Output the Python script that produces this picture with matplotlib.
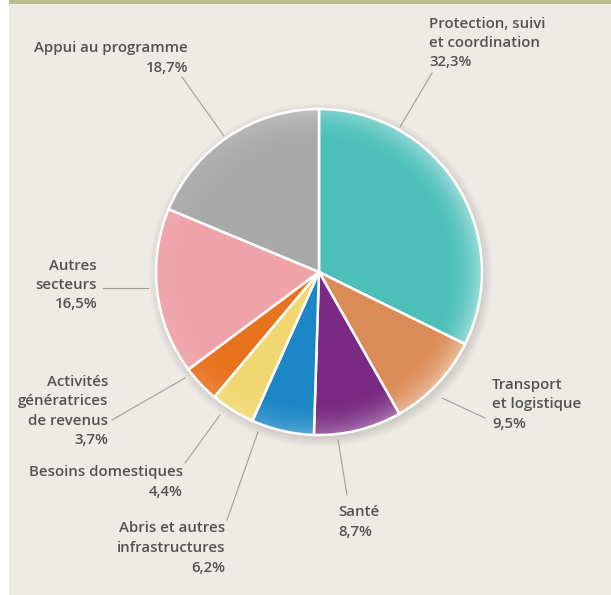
import numpy as np
import matplotlib
matplotlib.use("Agg")
import matplotlib.pyplot as plt
from matplotlib.patches import Circle, Rectangle

# ---- data ----
categories = ["Protection, suivi\net coordination", "Transport\net logistique", "Santé",
              "Abris et autres\ninfrastructures", "Besoins domestiques",
              "Activités\ngénératrices\nde revenus", "Autres\nsecteurs", "Appui au programme"]
values = [32.3, 9.5, 8.7, 6.2, 4.4, 3.7, 16.5, 18.7]
value_labels = ["32,3%", "9,5%", "8,7%", "6,2%", "4,4%", "3,7%", "16,5%", "18,7%"]
colors = ["#4cbfb9", "#db8b55", "#7a2a83", "#1b87c6", "#f1d770", "#e8731f", "#eea3a9", "#a9a9a9"]

W, H = 611, 595
fig = plt.figure(figsize=(W / 100, H / 100), dpi=100)
fig.patch.set_facecolor("#ffffff")
ax = fig.add_axes([0, 0, 1, 1])
ax.set_xlim(0, W)
ax.set_ylim(0, H)
ax.axis("off")

def Y(y):
    return H - y

# background
ax.add_patch(Rectangle((9, 0), W - 9, H, facecolor="#eeebe7", edgecolor="none", zorder=0))
ax.add_patch(Rectangle((9, Y(4)), W - 9, 4, facecolor="#b9bd8c", edgecolor="none", zorder=1))

cx, cy, R = 319, Y(272), 163

# soft shadow
for i in range(10):
    ax.add_patch(Circle((cx + 2, cy - 3), R + 9 - i, facecolor="#9a968f",
                        edgecolor="none", alpha=0.035, zorder=1))

wedges, _ = ax.pie(values, colors=colors, startangle=90, counterclock=False,
                   center=(cx, cy), radius=R, frame=False,
                   wedgeprops=dict(edgecolor="white", linewidth=1.8, zorder=3))
ax.set_xlim(0, W)
ax.set_ylim(0, H)
ax.set_aspect("auto")

# rim highlight (gradient overlay clipped to circle)
n = 400
xs = np.linspace(-1, 1, n)
XX, YY = np.meshgrid(xs, xs)
rr = np.sqrt(XX ** 2 + YY ** 2)
alpha = np.clip((rr - 0.78) / 0.22, 0, 1) ** 2 * 0.45
ang_w = np.clip(0.6 + 0.5 * XX, 0, 1)
img = np.zeros((n, n, 4))
img[..., :3] = 1.0
img[..., 3] = alpha * ang_w
im = ax.imshow(img, extent=(cx - R, cx + R, cy - R, cy + R), origin="lower", zorder=4,
               interpolation="bilinear")
clip = Circle((cx, cy), R, transform=ax.transData)
im.set_clip_path(clip)

# labels: (text x, text center y, ha, line start, line end) in image pixels
label_pos = [
    (429, 43, "left", (432, 73), (400, 127)),
    (492, 404, "left", (485, 418), (442, 398)),
    (338, 522, "left", (347, 495), (338, 440)),
    (225, 548, "right", (227, 520), (258, 432)),
    (183, 482, "right", (185, 463), (220, 415)),
    (108, 411, "right", (112, 420), (185, 378)),
    (97, 285, "right", (103, 288), (148, 288)),
    (188, 58, "right", (182, 77), (224, 136)),
]

for cat, vl, (tx, ty, ha, p0, p1) in zip(categories, value_labels, label_pos):
    ax.plot([p0[0], p1[0]], [Y(p0[1]), Y(p1[1])], color="#a09f9b", lw=0.8, zorder=2)
    ax.text(tx, Y(ty), cat + "\n" + vl, ha=ha, va="center", multialignment=ha,
            fontsize=10.8, family="Open Sans", fontweight="semibold", color="#525250",
            linespacing=1.5, zorder=5)

fig.savefig("out.png", dpi=100, facecolor=fig.get_facecolor())
